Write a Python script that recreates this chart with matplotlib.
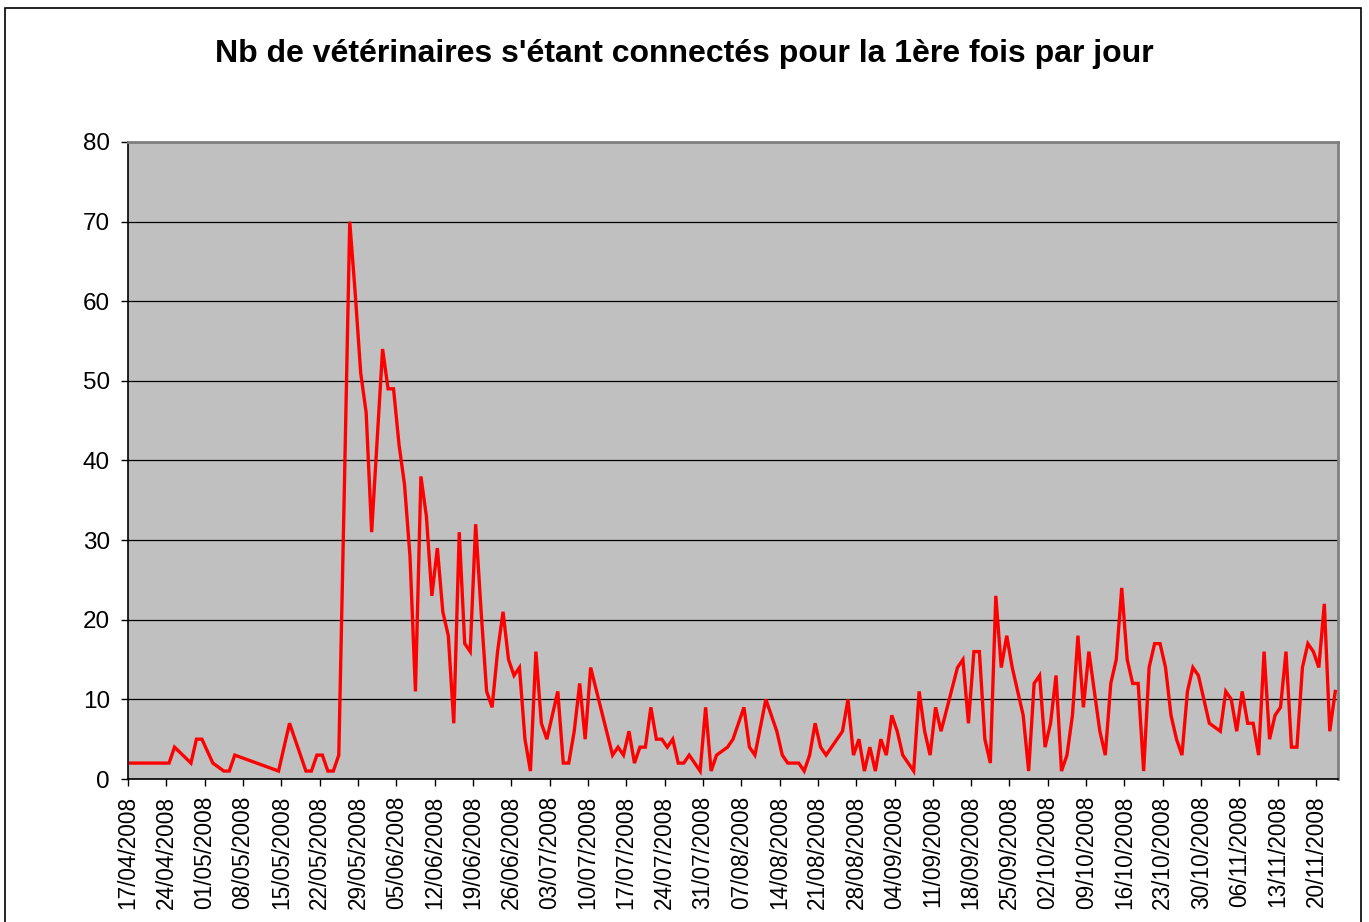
import matplotlib
matplotlib.use("Agg")
import matplotlib.pyplot as plt
import matplotlib.dates as mdates
import pandas as pd
from matplotlib.patches import Rectangle

plt.rcParams['font.family'] = ['Liberation Sans', 'DejaVu Sans']

title = "Nb de vétérinaires s'étant connectés pour la 1ère fois par jour"

dates = [
    "17/04/2008", "24/04/2008", "25/04/2008", "28/04/2008", "29/04/2008", "30/04/2008",
    "02/05/2008", "04/05/2008", "05/05/2008", "06/05/2008", "14/05/2008", "16/05/2008",
    "19/05/2008", "20/05/2008", "21/05/2008", "22/05/2008", "23/05/2008", "24/05/2008",
    "25/05/2008", "26/05/2008", "27/05/2008", "28/05/2008", "29/05/2008", "30/05/2008",
    "31/05/2008", "02/06/2008", "03/06/2008", "04/06/2008", "05/06/2008", "06/06/2008",
    "07/06/2008", "08/06/2008", "09/06/2008", "10/06/2008", "11/06/2008", "12/06/2008",
    "13/06/2008", "14/06/2008", "15/06/2008", "16/06/2008", "17/06/2008", "18/06/2008",
    "19/06/2008", "20/06/2008", "21/06/2008", "22/06/2008", "23/06/2008", "24/06/2008",
    "25/06/2008", "26/06/2008", "27/06/2008", "28/06/2008", "29/06/2008", "30/06/2008",
    "01/07/2008", "02/07/2008", "04/07/2008", "05/07/2008", "06/07/2008", "07/07/2008",
    "08/07/2008", "09/07/2008", "10/07/2008", "14/07/2008", "15/07/2008", "16/07/2008",
    "17/07/2008", "18/07/2008", "19/07/2008", "20/07/2008", "21/07/2008", "22/07/2008",
    "23/07/2008", "24/07/2008", "25/07/2008", "26/07/2008", "27/07/2008", "28/07/2008",
    "30/07/2008", "31/07/2008", "01/08/2008", "02/08/2008", "04/08/2008", "05/08/2008",
    "07/08/2008", "08/08/2008", "09/08/2008", "11/08/2008", "13/08/2008", "14/08/2008",
    "15/08/2008", "17/08/2008", "18/08/2008", "19/08/2008", "20/08/2008", "21/08/2008",
    "22/08/2008", "25/08/2008", "26/08/2008", "27/08/2008", "28/08/2008", "29/08/2008",
    "30/08/2008", "31/08/2008", "01/09/2008", "02/09/2008", "03/09/2008", "04/09/2008",
    "05/09/2008", "07/09/2008", "08/09/2008", "09/09/2008", "10/09/2008", "11/09/2008",
    "12/09/2008", "15/09/2008", "16/09/2008", "17/09/2008", "18/09/2008", "19/09/2008",
    "20/09/2008", "21/09/2008", "22/09/2008", "23/09/2008", "24/09/2008", "25/09/2008",
    "27/09/2008", "28/09/2008", "29/09/2008", "30/09/2008", "01/10/2008", "02/10/2008",
    "03/10/2008", "04/10/2008", "05/10/2008", "06/10/2008", "07/10/2008", "08/10/2008",
    "09/10/2008", "11/10/2008", "12/10/2008", "13/10/2008", "14/10/2008", "15/10/2008",
    "16/10/2008", "17/10/2008", "18/10/2008", "19/10/2008", "20/10/2008", "21/10/2008",
    "22/10/2008", "23/10/2008", "24/10/2008", "25/10/2008", "26/10/2008", "27/10/2008",
    "28/10/2008", "29/10/2008", "31/10/2008", "02/11/2008", "03/11/2008", "04/11/2008",
    "05/11/2008", "06/11/2008", "07/11/2008", "08/11/2008", "09/11/2008", "10/11/2008",
    "11/11/2008", "12/11/2008", "13/11/2008", "14/11/2008", "15/11/2008", "16/11/2008",
    "17/11/2008", "18/11/2008", "19/11/2008", "20/11/2008", "21/11/2008", "22/11/2008",
    "23/11/2008",
]

nb_veto = [
    2, 2, 4, 2, 5, 5,
    2, 1, 1, 3, 1, 7,
    1, 1, 3, 3, 1, 1,
    3, 36, 70, 61, 51, 46,
    31, 54, 49, 49, 42, 37,
    28, 11, 38, 33, 23, 29,
    21, 18, 7, 31, 17, 16,
    32, 21, 11, 9, 16, 21,
    15, 13, 14, 5, 1, 16,
    7, 5, 11, 2, 2, 6,
    12, 5, 14, 3, 4, 3,
    6, 2, 4, 4, 9, 5,
    5, 4, 5, 2, 2, 3,
    1, 9, 1, 3, 4, 5,
    9, 4, 3, 10, 6, 3,
    2, 2, 1, 3, 7, 4,
    3, 6, 10, 3, 5, 1,
    4, 1, 5, 3, 8, 6,
    3, 1, 11, 6, 3, 9,
    6, 14, 15, 7, 16, 16,
    5, 2, 23, 14, 18, 14,
    8, 1, 12, 13, 4, 7,
    13, 1, 3, 8, 18, 9,
    16, 6, 3, 12, 15, 24,
    15, 12, 12, 1, 14, 17,
    17, 14, 8, 5, 3, 11,
    14, 13, 7, 6, 11, 10,
    6, 11, 7, 7, 3, 16,
    5, 8, 9, 16, 4, 4,
    14, 17, 16, 14, 22, 6,
    11,
]

y_ticks = [0, 10, 20, 30, 40, 50, 60, 70, 80]

x = pd.to_datetime(dates, format="%d/%m/%Y") + pd.Timedelta(hours=12)
start = pd.Timestamp("2008-04-17")
end = pd.Timestamp("2008-11-24")
week_ticks = pd.date_range(start, pd.Timestamp("2008-11-20"), freq="7D")

fig = plt.figure(figsize=(13.69, 9.22), dpi=100)
ax = fig.add_axes([128 / 1369, 1 - 779 / 922, 1210 / 1369, 637 / 922])
ax.set_facecolor("#C0C0C0")

ax.plot(x, nb_veto, color="#FF0000", lw=2.4, solid_joinstyle="miter")

ax.set_xlim(start, end)
ax.set_ylim(0, 80)
ax.set_yticks(y_ticks)
ax.set_xticks(week_ticks)
ax.xaxis.set_major_formatter(mdates.DateFormatter("%d/%m/%Y"))
ax.yaxis.grid(True, color="black", lw=0.9)
ax.set_axisbelow(True)

ax.tick_params(axis="y", direction="out", length=5, width=1, pad=8, labelsize=17.5)
ax.tick_params(axis="x", direction="out", length=5, width=1, pad=7, labelsize=16.3,
               labelrotation=90)

for side in ["left", "bottom"]:
    ax.spines[side].set_color("black")
    ax.spines[side].set_linewidth(1.2)
for side in ["top", "right"]:
    ax.spines[side].set_color("#808080")
    ax.spines[side].set_linewidth(2)

fig.text(0.5, 1 - 54 / 922, title, ha="center", va="center", fontsize=23, fontweight="bold")

# cadre du graphique
fig.patches.append(Rectangle((5 / 1369, -0.01), 1356 / 1369, 1.01 - 8 / 922, transform=fig.transFigure,
                             fill=False, edgecolor="black", lw=1.2))

fig.savefig("out.png", dpi=100)
